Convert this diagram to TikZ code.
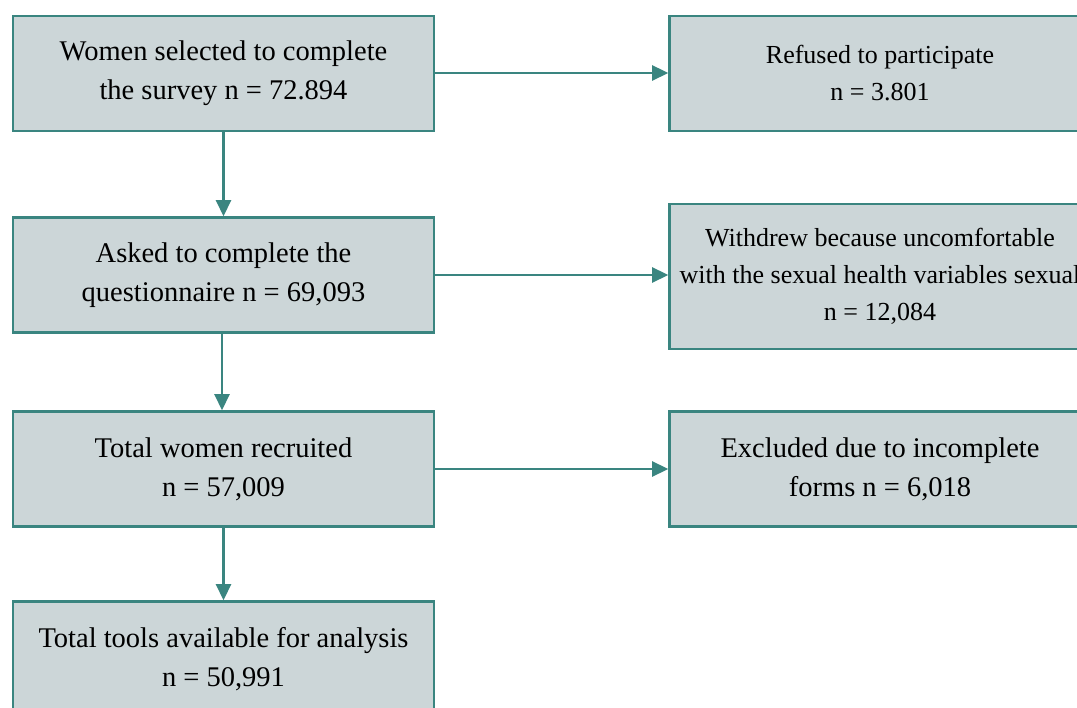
\documentclass[tikz,border=0pt]{standalone}
\usepackage{fontspec}
\setmainfont{Liberation Serif}
\usetikzlibrary{arrows.meta}
\definecolor{boxfill}{HTML}{CCD6D8}
\definecolor{teal}{HTML}{3A8580}
\begin{document}
\begin{tikzpicture}[x=1pt,y=-1pt,
  box/.style={draw=teal, line width=2.6pt, fill=boxfill, align=center, inner sep=0pt,
    minimum width=421pt, minimum height=115pt, text=black},
  bigtxt/.style={font=\fontsize{28.5}{39}\selectfont},
  smalltxt/.style={font=\fontsize{26}{37}\selectfont},
  arr/.style={draw=teal, line width=2.6pt, -{Triangle[length=16pt,width=15pt]}}]
\useasboundingbox (0,0) rectangle (1077,708);
\fill[white] (0,0) rectangle (1077,708);
\begin{scope}
\clip (0,0) rectangle (1077,708);
\node[box,bigtxt] (a) at (223.5,73.5) {Women selected to complete\\the survey n = 72.894};
\node[box,bigtxt] (b) at (223.5,275) {Asked to complete the\\questionnaire n = 69,093};
\node[box,bigtxt] (c) at (223.5,469) {Total women recruited\\n = 57,009};
\node[box,bigtxt] (d) at (223.5,659) {Total tools available for analysis\\n = 50,991};
\node[box,smalltxt] (r1) at (880,73.5) {Refused to participate\\n = 3.801};
\node[box,smalltxt,minimum height=145pt] (r2) at (880,276.5) {Withdrew because uncomfortable\\with the sexual health variables sexual\\n = 12,084};
\node[box,bigtxt] (r3) at (880,469) {Excluded due to incomplete\\forms n = 6,018};
\end{scope}
\draw[arr] (a.east |- 0,73) -- (r1.west |- 0,73);
\draw[arr] (b.east |- 0,275) -- (r2.west |- 0,275);
\draw[arr] (c.east |- 0,469) -- (r3.west |- 0,469);
\draw[arr] (a.south) -- (b.north);
\draw[arr] (b.south -| 222,0) -- (c.north -| 222,0);
\draw[arr] (c.south) -- (d.north);
\end{tikzpicture}
\end{document}
